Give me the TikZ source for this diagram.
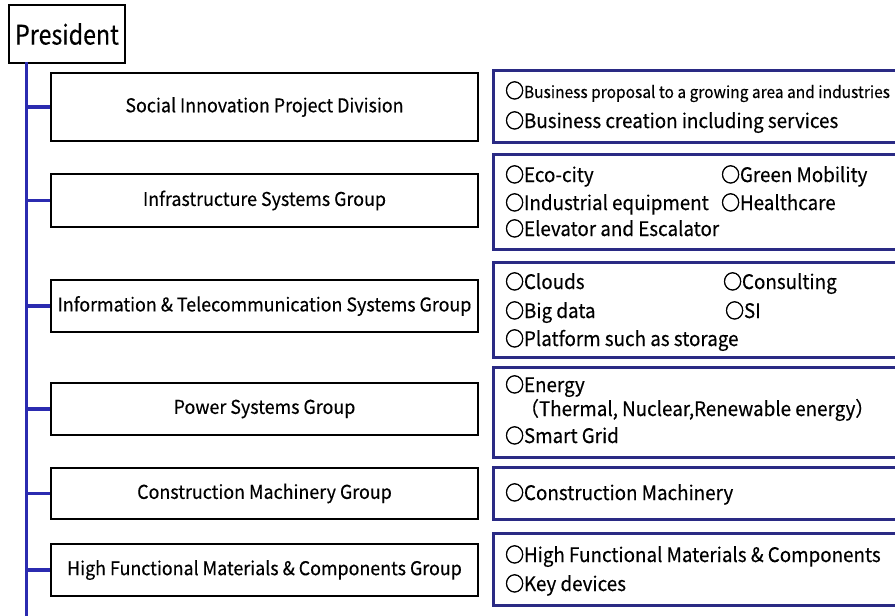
\documentclass[tikz,border=0pt]{standalone}
\usepackage{fontspec}
\setmainfont{Noto Sans CJK JP}[FakeStretch=0.94,FakeBold=0.3]
\newfontfamily\presfont{Noto Sans CJK JP}[FakeStretch=0.86,FakeBold=0.3]
\newfontfamily\circfont{Noto Sans CJK JP}[FakeStretch=0.94,FakeBold=2.5]
\newcommand{\ci}{{\circfont ○}}
\definecolor{navyb}{HTML}{2A2A84}
\definecolor{spineb}{HTML}{2B2BB0}
\begin{document}
\begin{tikzpicture}[x=1pt,y=-1pt,
  leftbox/.style={draw=black, line width=2pt, fill=white, inner sep=0pt, anchor=north west, font=\fontsize{19}{22}\selectfont},
  presbox/.style={draw=black, line width=2pt, fill=white, inner sep=0pt, anchor=north west, font=\presfont\fontsize{27}{30}\selectfont},
  rightbox/.style={draw=navyb, line width=3pt},
  item/.style={anchor=base west, inner sep=0pt, font=\fontsize{20}{24}\selectfont},
  smallitem/.style={anchor=base west, inner sep=0pt, font=\fontsize{16.5}{20}\selectfont},
  branch/.style={draw=spineb, line width=3.5pt}]
\useasboundingbox (0,0) rectangle (895,616);
% President
\node[presbox, minimum width=116, minimum height=58] (pres) at (8,4) {President};
\coordinate (spinetop) at (26.5,62);
\coordinate (spinebot) at (26.5,616);
\draw[branch] (spinetop) -- (spinebot);
% left boxes
\node[leftbox, minimum width=427, minimum height=68] (sipd) at (50,72) {Social Innovation Project Division};
\node[leftbox, minimum width=427, minimum height=53] (isg) at (50,173) {Infrastructure Systems Group};
\node[leftbox, minimum width=427, minimum height=52] (itsg) at (50,279) {Information \& Telecommunication Systems Group};
\node[leftbox, minimum width=427, minimum height=52] (psg) at (50,382) {Power Systems Group};
\node[leftbox, minimum width=427, minimum height=51] (cmg) at (50,467) {Construction Machinery Group};
\node[leftbox, minimum width=427, minimum height=52] (hfg) at (50,543) {High Functional Materials \& Components Group};
\foreach \n in {sipd,isg,itsg,psg,cmg,hfg}{
  \draw[branch] (\n.west -| spinetop) -- (\n.west);
}
% right boxes
\draw[rightbox] (493,70) rectangle (905,142);
\draw[rightbox] (493,154) rectangle (905,249);
\draw[rightbox] (493,262) rectangle (905,357);
\draw[rightbox] (493,367) rectangle (905,457);
\draw[rightbox] (493,467) rectangle (905,519);
\draw[rightbox] (493,533) rectangle (905,605);
% right texts
\node[smallitem] (t1a) at (505,98) {{\fontsize{20}{24}\selectfont\ci}Business proposal to a growing area and industries};
\node[item] (t1b) at (505,128) {\ci Business creation including services};
\node[item] (t2a) at (505,182) {\ci Eco-city};
\node[item] (t2b) at (721,182) {\ci Green Mobility};
\node[item] (t2c) at (505,210) {\ci Industrial equipment};
\node[item] (t2d) at (721,210) {\ci Healthcare};
\node[item] (t2e) at (505,236) {\ci Elevator and Escalator};
\node[item] (t3a) at (505,289) {\ci Clouds};
\node[item] (t3b) at (723,289) {\ci Consulting};
\node[item] (t3c) at (505,318) {\ci Big data};
\node[item] (t3d) at (725,318) {\ci SI};
\node[item] (t3e) at (505,346) {\ci Platform such as storage};
\node[item] (t4a) at (505,392) {\ci Energy};
\node[item] (t4b) at (520,416) {（Thermal, Nuclear,Renewable energy）};
\node[item] (t4c) at (505,443) {\ci Smart Grid};
\node[item] (t5a) at (505,500) {\ci Construction Machinery};
\node[item] (t6a) at (505,562) {\ci High Functional Materials \& Components};
\node[item] (t6b) at (505,591) {\ci Key devices};
\end{tikzpicture}
\end{document}
